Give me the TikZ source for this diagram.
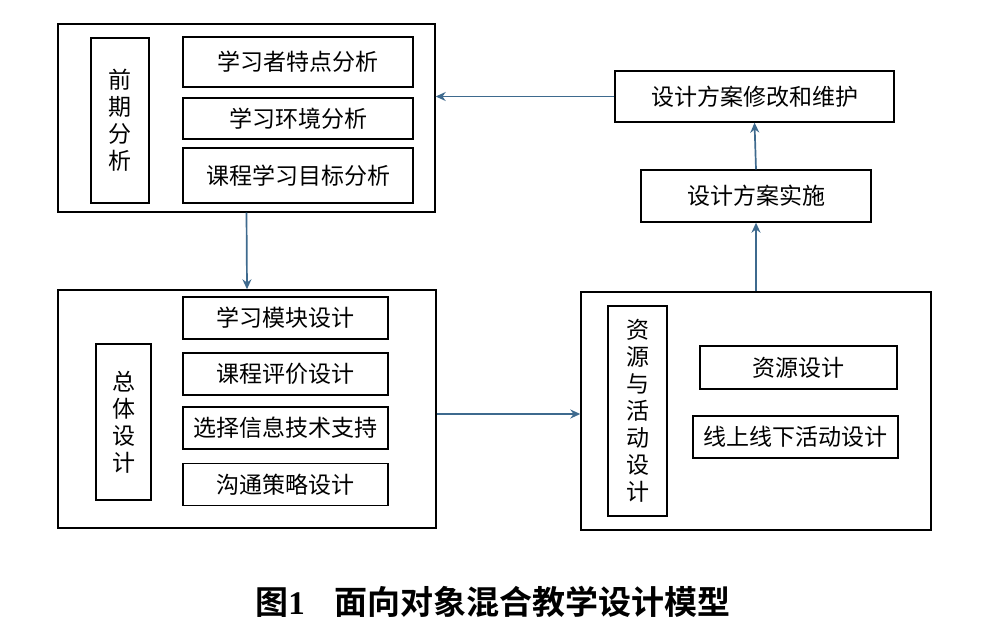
\documentclass[tikz,border=0pt]{standalone}
\usepackage{fontspec}
\newfontfamily\cjk[BoldFont={Noto Sans CJK SC Bold}]{Noto Sans CJK SC}
\newfontfamily\numfont{Liberation Serif}
\usepackage{xcolor}
\definecolor{arrowblue}{RGB}{62,106,142}
\usetikzlibrary{arrows.meta, calc}

\begin{document}
\begin{tikzpicture}[
    x=1pt, y=-1pt,
    frame/.style = {
        draw,
        line width=1.4pt,
        inner sep=0pt
    },
    item/.style = {
        frame,
        font=\cjk\fontsize{23}{23}\selectfont
    },
    tag/.style = {
        frame,
        align=center,
        font=\cjk\fontsize{23}{27}\selectfont
    },
    flow/.style = {
        line width=1.7pt,
        arrowblue,
        -{Stealth[length=10pt,width=9pt]}
    }
]
    \useasboundingbox (0,0) rectangle (1000,631);

    % Pre-analysis block
    \node[frame, minimum width=377pt, minimum height=188pt] (analysis) at (246.5,118) {};
    \node[tag, minimum width=58pt, minimum height=165pt] (analysisTag) at (120,120.5) {前\\期\\分\\析};
    \node[item, minimum width=230pt, minimum height=50pt] (learner) at (298,62) {学习者特点分析};
    \node[item, minimum width=230pt, minimum height=41pt] (env) at (298,118.5) {学习环境分析};
    \node[item, minimum width=230pt, minimum height=55pt] (goal) at (298,175.5) {课程学习目标分析};

    % Overall design block
    \node[frame, minimum width=378pt, minimum height=238pt] (design) at (247,409) {};
    \node[tag, minimum width=55pt, minimum height=156pt] (designTag) at (123.5,422) {总\\体\\设\\计};
    \node[item, minimum width=205pt, minimum height=42pt] (module) at (285.5,318) {学习模块设计};
    \node[item, minimum width=205pt, minimum height=42pt] (assess) at (285.5,374) {课程评价设计};
    \node[item, minimum width=205pt, minimum height=42pt] (tech) at (285.5,428) {选择信息技术支持};
    \node[item, minimum width=205pt, minimum height=42pt] (comm) at (285.5,484.5) {沟通策略设计};

    % Resource and activity block
    \node[frame, minimum width=350pt, minimum height=238pt] (resource) at (756,411) {};
    \node[tag, minimum width=59pt, minimum height=210pt] (resourceTag) at (637.5,411) {资\\源\\与\\活\\动\\设\\计};
    \node[item, minimum width=197pt, minimum height=43pt] (res) at (798.5,367.5) {资源设计};
    \node[item, minimum width=205pt, minimum height=42pt] (act) at (795.5,437) {线上线下活动设计};

    % Implementation and maintenance
    \node[item, minimum width=230pt, minimum height=52pt] (impl) at (756,196) {设计方案实施};
    \node[item, minimum width=279pt, minimum height=51pt] (maint) at (754.5,96.5) {设计方案修改和维护};

    \draw[flow] (analysis.south) -- (design.north);
    \draw[flow] ($(design.east)+(0,5)$) -- ($(design.east -| resource.west)+(0,5)$);
    \draw[flow] (resource.north) -- (impl.south);
    \draw[flow] (impl.north) -- (maint.south);
    \draw[flow] (maint.west) -- (maint.west -| analysis.east);

    \node[font=\cjk\bfseries\fontsize{33}{33}\selectfont] (caption) at (493,602)
        {图{\numfont\bfseries 1}\hspace{0.9em}面向对象混合教学设计模型};
\end{tikzpicture}
\end{document}
